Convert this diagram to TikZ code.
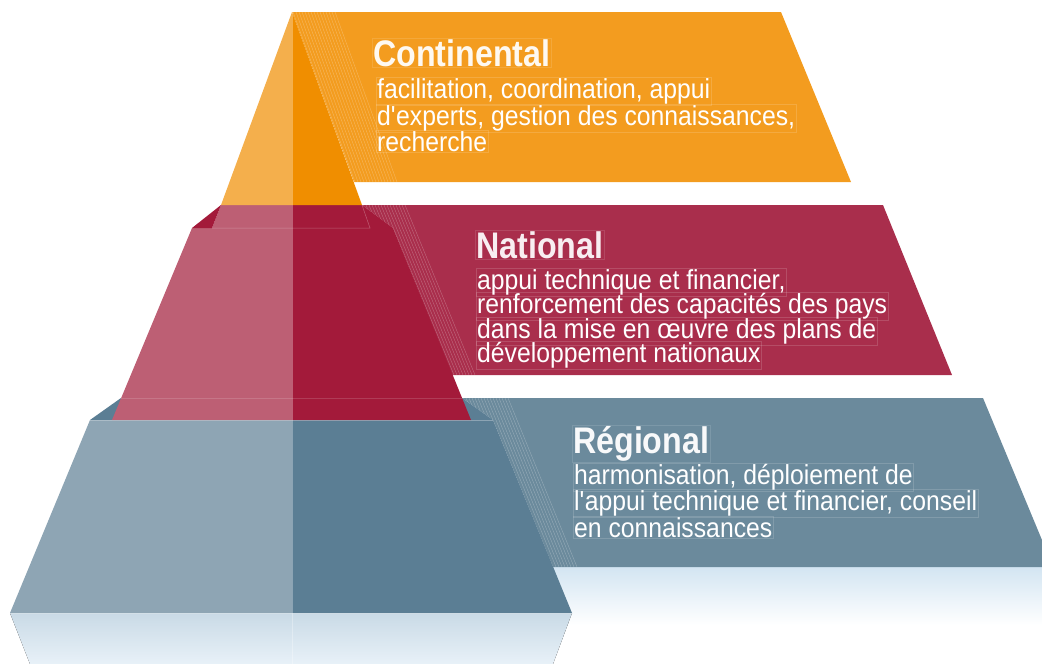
\documentclass[tikz,border=0pt]{standalone}
\usepackage{fontspec}
\setmainfont{Liberation Sans}
\newfontfamily\bodyfont[FakeStretch=0.9]{Liberation Sans}
\newfontfamily\headfont[FakeStretch=0.87]{Liberation Sans}
\usepackage{tikz}
\definecolor{orgband}{HTML}{F39C1F}
\definecolor{orglight}{HTML}{F4AF4C}
\definecolor{orgdark}{HTML}{F08E00}
\definecolor{redband}{HTML}{A92E4C}
\definecolor{redlight}{HTML}{BD5F74}
\definecolor{reddark}{HTML}{A31A3A}
\definecolor{bluband}{HTML}{6B8A9C}
\definecolor{blulight}{HTML}{8EA5B4}
\definecolor{bludark}{HTML}{5B7E94}
\definecolor{mirror}{HTML}{C9DAE6}
\definecolor{mirrorlow}{HTML}{E8F1F8}
\definecolor{mirrorband}{HTML}{D3E5F2}

\begin{document}
\begin{tikzpicture}[x=1pt,y=-1pt,
    head/.style={anchor=base west,inner sep=1pt,draw=white,draw opacity=0.12,line width=0.4pt,
      font=\headfont\bfseries\fontsize{37}{37}\selectfont},
    body/.style={anchor=base west,inner sep=1pt,draw=white,draw opacity=0.15,line width=0.4pt,
      text=white,font=\bodyfont\fontsize{27.5}{27.5}\selectfont},
    hatch/.style={white,opacity=0.3,line width=0.35pt},
    seam/.style={white,opacity=0.3,line width=0.5pt}]
      \useasboundingbox (0,0) rectangle (1042,664);
      % reflections
      \fill[top color=mirrorband,bottom color=white] (540,567) -- (1050,567) -- (1050,625) -- (540,625) -- cycle;
      \fill[top color=mirror,bottom color=mirrorlow] (10,613) -- (572,613) -- (553,664) -- (30,664) -- cycle;
      % banners
      \fill[orgband] (292,12) -- (781,12) -- (851,182) -- (354,182) -- cycle;
      \fill[redband] (362,205) -- (883,205) -- (952,375) -- (452,375) -- (393,228) -- cycle;
      \fill[bluband] (462,398) -- (983,398) -- (1042,540) -- (1042,567) -- (553,567) -- (493,420) -- cycle;
      \begin{scope}
        \clip (292,12) -- (337,12) -- (399,182) -- (354,182) -- cycle;
        \foreach \i in {0,...,16} \draw[hatch] (290+3*\i,12) -- ++(62,170);
      \end{scope}
      \begin{scope}
        \clip (362,205) -- (407,205) -- (477,375) -- (452,375) -- (393,228) -- cycle;
        \foreach \i in {0,...,16} \draw[hatch] (360+3*\i,205) -- ++(70,170);
      \end{scope}
      \begin{scope}
        \clip (462,398) -- (509,398) -- (578,567) -- (553,567) -- (493,420) -- cycle;
        \foreach \i in {0,...,17} \draw[hatch] (460+3*\i,398) -- ++(69,169);
      \end{scope}
      % pyramid
      \fill[blulight] (90,420) -- (292,420) -- (292,613) -- (10,613) -- cycle;
      \fill[bludark] (292,420) -- (493,420) -- (572,613) -- (292,613) -- cycle;
      \fill[bludark] (90,420) -- (121,398) -- (462,398) -- (493,420) -- cycle;
      \fill[redlight] (221,205) -- (292,205) -- (292,420) -- (112,420) -- (192,228) -- (212,228) -- cycle;
      \fill[reddark] (292,205) -- (362,205) -- (393,228) -- (471,420) -- (292,420) -- cycle;
      \fill[reddark] (192,228) -- (221,205) -- (212,228) -- cycle;
      \fill[orglight] (292,12) -- (292,205) -- (221,205) -- cycle;
      \fill[orgdark] (292,12) -- (362,205) -- (292,205) -- cycle;
      \draw[seam] (292,12) -- (292,664);
      \draw[seam] (212,228) -- (370,228) -- (362,205);
      \draw[seam,opacity=0.15] (121,398) -- (462,398);
      \draw[seam] (90,420) -- (493,420);
      \draw[seam] (10,613) -- (572,613);
      % texts
      \node[head,text=orgband!6!white] (contTitle) at (372,66) {Continental};
      \node[body] (contA) at (376,98) {facilitation, coordination, appui};
      \node[body] (contB) at (376,125) {d\textquotesingle experts, gestion des connaissances,};
      \node[body] (contC) at (376,151) {recherche};
      \node[head,text=redband!8!white] (natTitle) at (475,258) {National};
      \node[body] (natA) at (476,289) {appui technique et financier,};
      \node[body] (natB) at (476,313.5) {renforcement des capacités des pays};
      \node[body] (natC) at (476,338) {dans la mise en œuvre des plans de};
      \node[body] (natD) at (476,362) {développement nationaux};
      \node[head,text=bluband!5!white] (regTitle) at (572,453) {Régional};
      \node[body] (regA) at (573,484) {harmonisation, déploiement de};
      \node[body] (regB) at (573,510.5) {l\textquotesingle appui technique et financier, conseil};
      \node[body] (regC) at (573,537) {en connaissances};
    \end{tikzpicture}
\end{document}
